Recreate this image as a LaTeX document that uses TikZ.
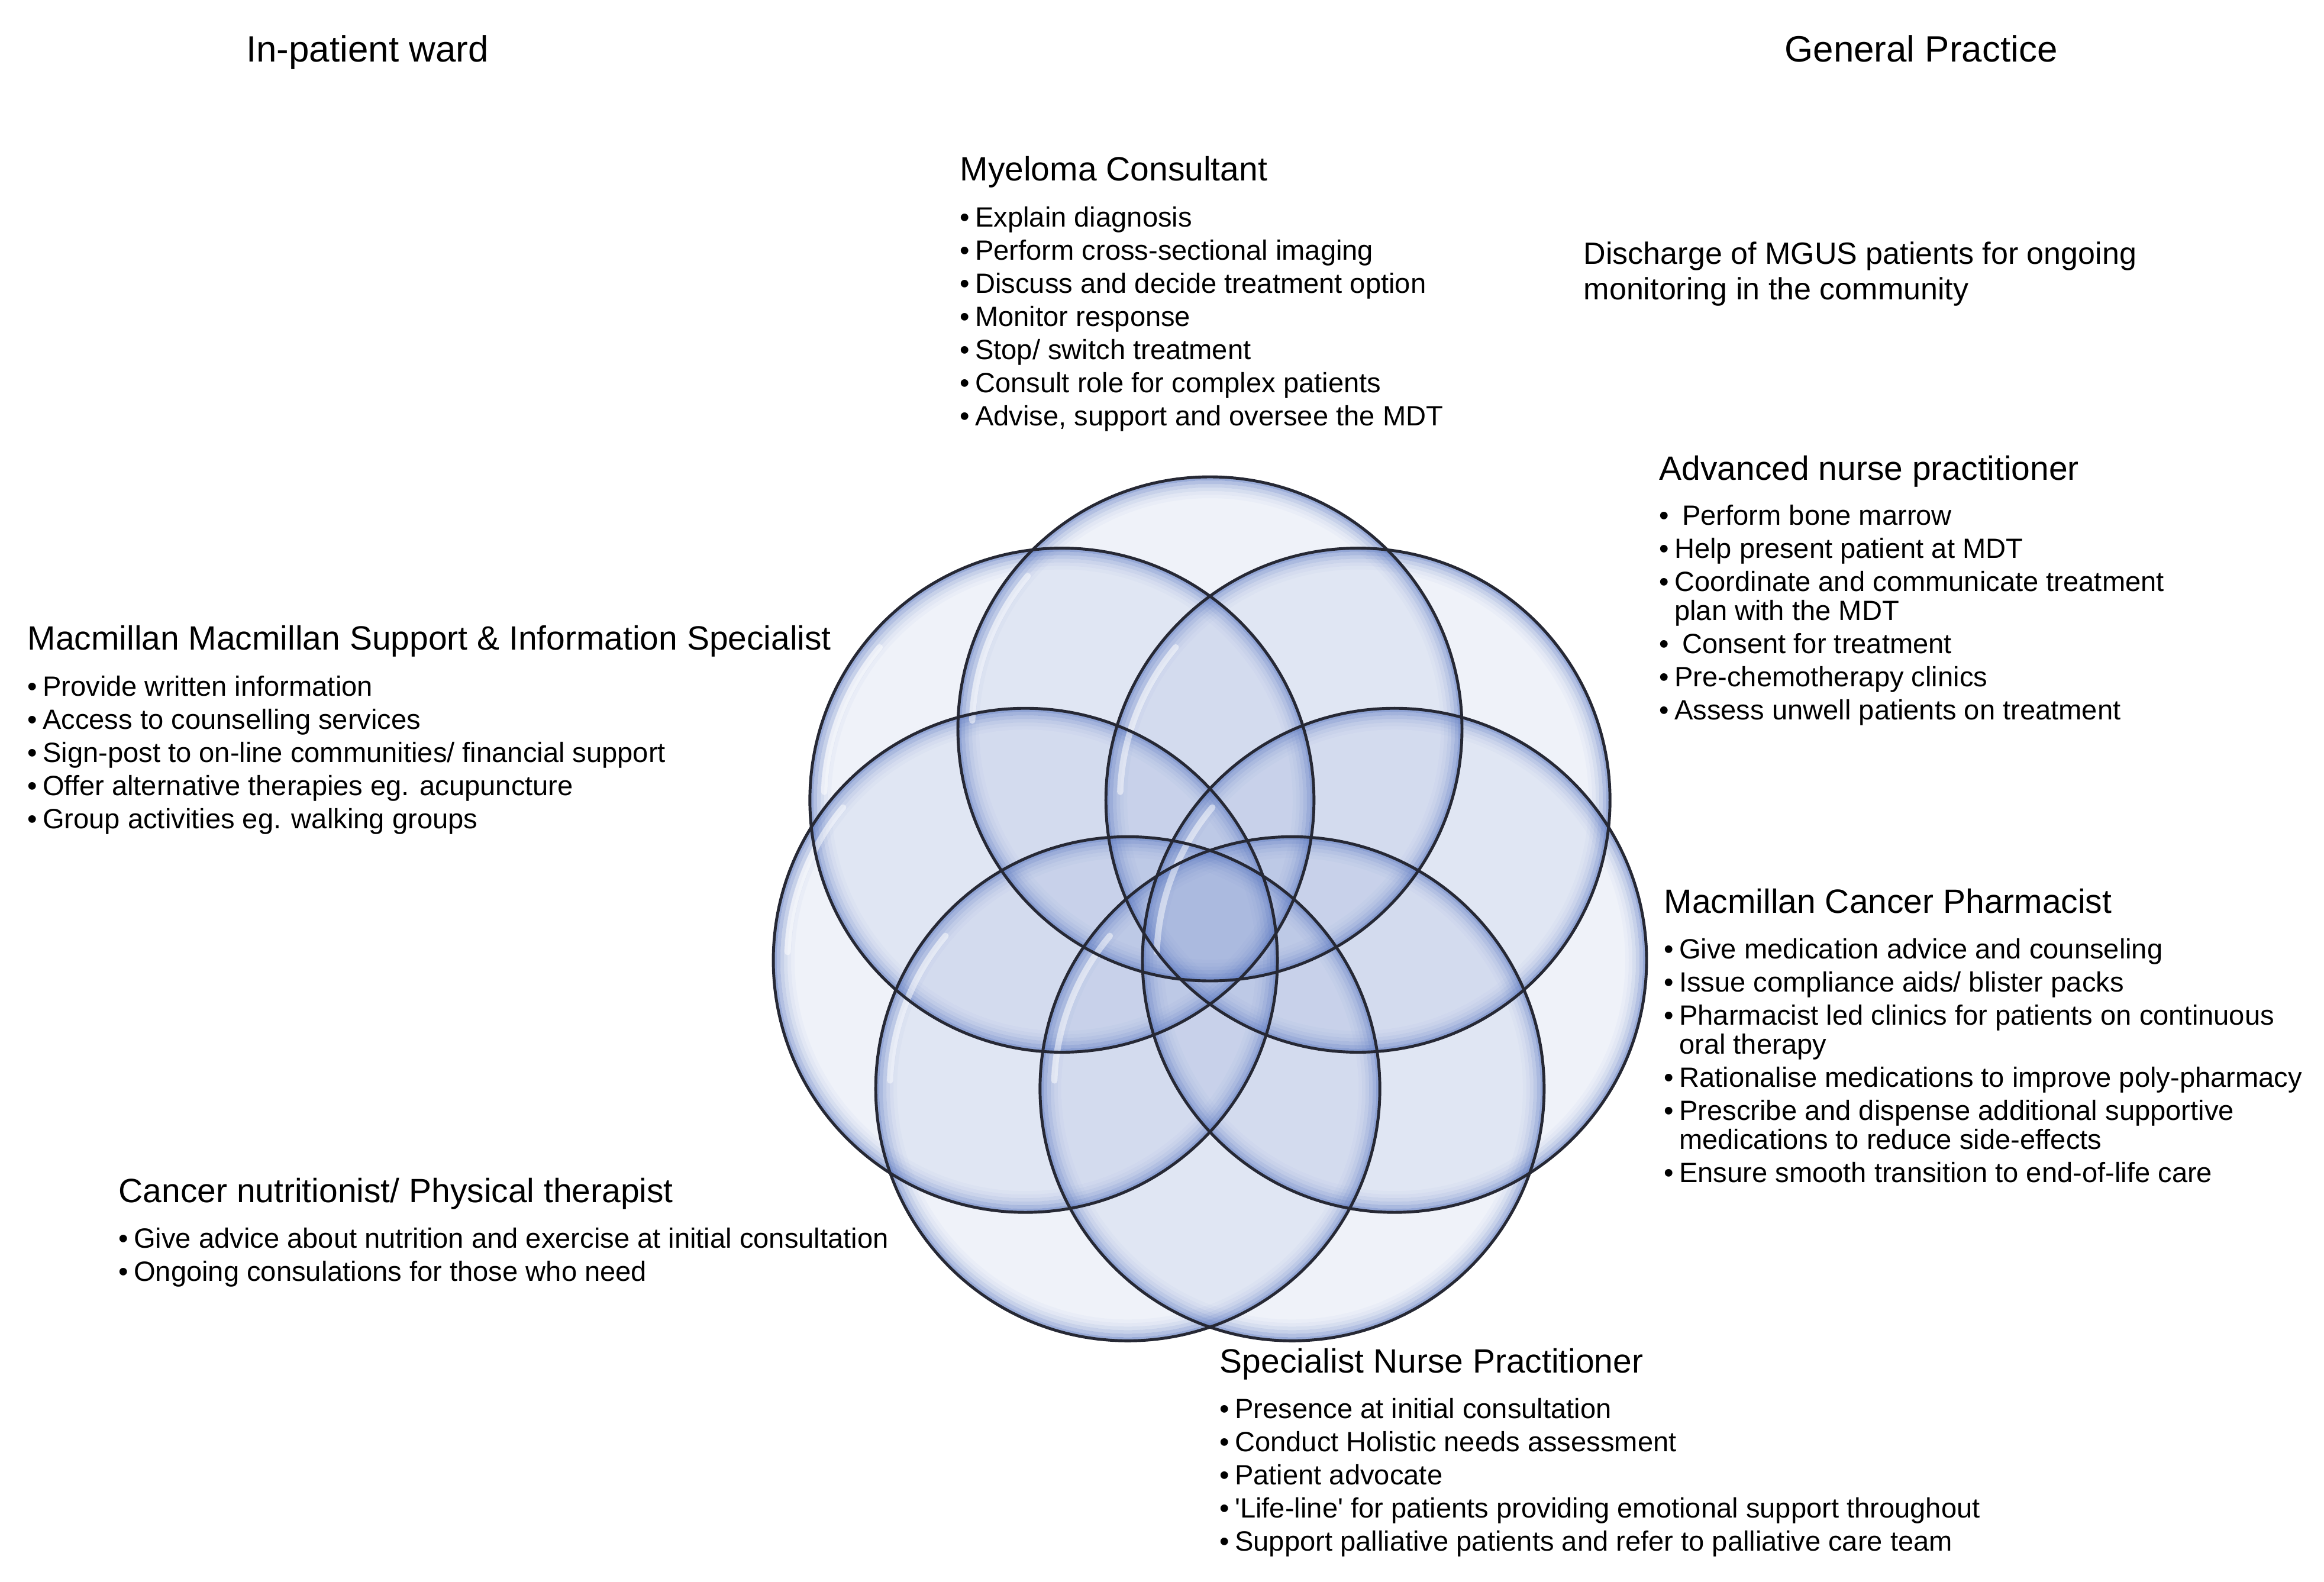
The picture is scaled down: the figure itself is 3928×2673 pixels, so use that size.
\documentclass[tikz,border=0pt]{standalone}
\usepackage{fontspec}
\setmainfont{Liberation Sans}

\definecolor{bubbleblue}{RGB}{96,124,194}
\definecolor{rimline}{RGB}{38,40,52}

\newcommand{\headfont}{\fontsize{17.6pt}{21pt}\selectfont}
\newcommand{\rolefont}{\fontsize{16.2pt}{19pt}\selectfont}
\newcommand{\itemfont}{\fontsize{13.4pt}{13.95pt}\selectfont}
\newcommand{\notefont}{\fontsize{14.8pt}{17.07pt}\selectfont}
\newcommand{\bul}{•\hspace{0.09cm}}
\newcommand{\cont}{\hphantom{\bul}}

\tikzstyle{heading} = [font=\headfont, anchor=base, inner sep=0pt]
\tikzstyle{role} = [font=\itemfont, align=left, anchor=north west, inner sep=0pt]
\tikzstyle{note} = [font=\notefont, align=left, anchor=north west, inner sep=0pt]
\tikzstyle{bubble} = [fill=bubbleblue, fill opacity=0.1]
\tikzstyle{rimband} = [draw=bubbleblue, line width=0.06cm]
\tikzstyle{bubbleline} = [draw=rimline, line width=1.4pt]
\tikzstyle{gloss} = [white, line width=3pt, opacity=0.5, line cap=round]

\begin{document}
\begin{tikzpicture}[x=0.01cm, y=-0.01cm]
\useasboundingbox (0,0) rectangle (3928,2673);

\coordinate (hub) at (2045,1552);

% seven overlapping bubbles
\foreach \k in {0,...,6}
  \fill[bubble, shift={(hub)}] ({270+\k*360/7}:320) circle [radius=426];
\foreach \k in {0,...,6}
  \foreach \d/\o in {3/0.6, 9/0.42, 15/0.28, 21/0.17, 27/0.09, 33/0.04}
    \draw[rimband, opacity=\o, shift={(hub)}] ({270+\k*360/7}:320) circle [radius=426-\d];
\foreach \k in {0,...,6}
  \draw[gloss, shift={(hub)}] ({270+\k*360/7}:320) ++(182:402) arc [start angle=182, end angle=220, radius=402];
\foreach \k in {0,...,6}
  \draw[bubbleline, shift={(hub)}] ({270+\k*360/7}:320) circle [radius=426];

\node (ward) [heading] at (621,105) {In-patient ward};
\node (gp) [heading] at (3247,105) {General Practice};

\node (consultant) [role] at (1622,264) {{\rolefont Myeloma Consultant}\\[0.28cm]
\bul Explain diagnosis\\[0.07cm]
\bul Perform cross-sectional imaging\\[0.07cm]
\bul Discuss and decide treatment option\\[0.07cm]
\bul Monitor response\\[0.07cm]
\bul Stop/ switch treatment\\[0.07cm]
\bul Consult role for complex patients\\[0.07cm]
\bul Advise, support and oversee the MDT};

\node (discharge) [note] at (2676,408) {Discharge of MGUS patients for ongoing\\
monitoring in the community};

\node (anp) [role] at (2804,770) {{\rolefont Advanced nurse practitioner}\\[0.26cm]
\bul\ Perform bone marrow\\[0.07cm]
\bul Help present patient at MDT\\[0.07cm]
\bul Coordinate and communicate treatment\\
\cont plan with the MDT\\[0.07cm]
\bul\ Consent for treatment\\[0.07cm]
\bul Pre-chemotherapy clinics\\[0.07cm]
\bul Assess unwell patients on treatment};

\node (support) [role] at (46,1057) {{\rolefont Macmillan Macmillan Support \& Information Specialist}\\[0.28cm]
\bul Provide written information\\[0.07cm]
\bul Access to counselling services\\[0.07cm]
\bul Sign-post to on-line communities/ financial support\\[0.07cm]
\bul Offer alternative therapies eg. acupuncture\\[0.07cm]
\bul Group activities eg. walking groups};

\node (pharmacist) [role] at (2812,1501) {{\rolefont Macmillan Cancer Pharmacist}\\[0.28cm]
\bul Give medication advice and counseling\\[0.07cm]
\bul Issue compliance aids/ blister packs\\[0.07cm]
\bul Pharmacist led clinics for patients on continuous\\
\cont oral therapy\\[0.07cm]
\bul Rationalise medications to improve poly-pharmacy\\[0.07cm]
\bul Prescribe and dispense additional supportive\\
\cont medications to reduce side-effects\\[0.07cm]
\bul Ensure smooth transition to end-of-life care};

\node (nutrition) [role] at (200,1990) {{\rolefont Cancer nutritionist/ Physical therapist}\\[0.28cm]
\bul Give advice about nutrition and exercise at initial consultation\\[0.07cm]
\bul Ongoing consulations for those who need};

\node (snp) [role] at (2061,2278) {{\rolefont Specialist Nurse Practitioner}\\[0.28cm]
\bul Presence at initial consultation\\[0.07cm]
\bul Conduct Holistic needs assessment\\[0.07cm]
\bul Patient advocate\\[0.07cm]
\bul\textquotesingle Life-line\textquotesingle{} for patients providing emotional support throughout\\[0.07cm]
\bul Support palliative patients and refer to palliative care team};

\end{tikzpicture}
\end{document}
